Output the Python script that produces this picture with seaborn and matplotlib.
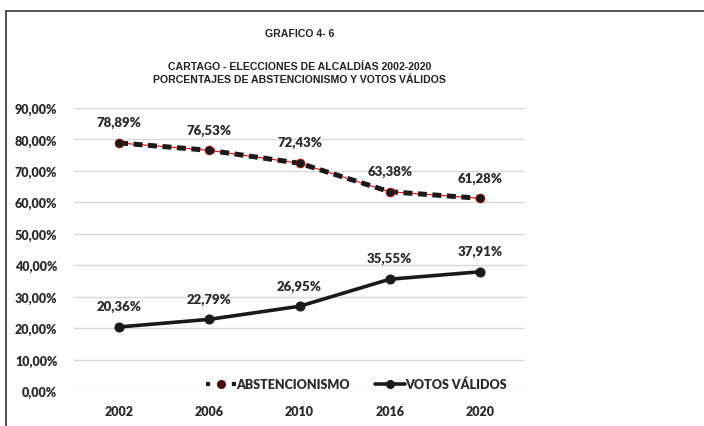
import matplotlib
matplotlib.use("Agg")
import matplotlib.pyplot as plt
import matplotlib.lines as mlines
import pandas as pd
import seaborn as sns

years = ["2002", "2006", "2010", "2016", "2020"]
abstencion = [78.89, 76.53, 72.43, 63.38, 61.28]
votos_validos = [20.36, 22.79, 26.95, 35.55, 37.91]
yticks = [0, 10, 20, 30, 40, 50, 60, 70, 80, 90]

df = pd.DataFrame({"year": years, "abst": abstencion, "votos": votos_validos})

sns.set_style("white")
plt.rcParams['font.family'] = ['Lato', 'DejaVu Sans']

fig = plt.figure(figsize=(7.04, 4.27), dpi=100)
ax = fig.add_axes([74/704, 1-392/427, (525-74)/704, (392-109)/427])

# thin red line under the dashed one
sns.lineplot(data=df, x="year", y="abst", ax=ax, color="red", lw=0.8, sort=False)
sns.lineplot(data=df, x="year", y="abst", ax=ax, color="#1a1a1a", lw=3.6,
             linestyle=(0, (1.8, 1.1)), sort=False)
sns.lineplot(data=df, x="year", y="abst", ax=ax, color="#1a1a1a", lw=0,
             marker="o", markersize=6.5, markerfacecolor="#1a1a1a",
             markeredgecolor="red", markeredgewidth=0.4, sort=False)
sns.lineplot(data=df, x="year", y="votos", ax=ax, color="#1a1a1a", lw=2.6,
             marker="o", markersize=6.5, markerfacecolor="#1a1a1a",
             markeredgecolor="#1a1a1a", sort=False)

for i, v in enumerate(abstencion):
    ax.annotate(f"{v:.2f}%".replace(".", ","), (i, v), xytext=(0, 15), textcoords="offset points",
                ha="center", va="center", fontsize=9.5, fontweight="heavy", color="#2b2b2b")
for i, v in enumerate(votos_validos):
    ax.annotate(f"{v:.2f}%".replace(".", ","), (i, v), xytext=(0, 15), textcoords="offset points",
                ha="center", va="center", fontsize=9.5, fontweight="heavy", color="#2b2b2b")

ax.set_xlim(-0.5, 4.5)
ax.set_ylim(0, 90)
ax.set_yticks(yticks)
ax.set_yticklabels([f"{t:.2f}%".replace(".", ",") for t in yticks])
ax.yaxis.grid(True, color="#d9d9d9", lw=1)
ax.set_axisbelow(True)
ax.set_xlabel("")
ax.set_ylabel("")
for s in ax.spines.values():
    s.set_visible(False)
ax.tick_params(axis="both", length=0, labelsize=9, colors="#2b2b2b")
ax.tick_params(axis="y", pad=12)
ax.tick_params(axis="x", pad=10)
for lab in ax.get_xticklabels() + ax.get_yticklabels():
    lab.set_fontweight("heavy")

h1 = mlines.Line2D([], [], color="#1a1a1a", lw=3, linestyle=(0, (1.0, 5.2)), marker="o",
                   markersize=5.5, markerfacecolor="#4a0808", markeredgecolor="#4a0808")
h2 = mlines.Line2D([], [], color="#1a1a1a", lw=2.6, marker="o", markersize=5.5)
leg = ax.legend([h1, h2], ["ABSTENCIONISMO", "VOTOS VÁLIDOS"], loc="center",
                bbox_to_anchor=((205 + 508) / 2 / 451 - 74 / 451, (392 - 385) / 283),
                ncol=2, frameon=False, handlelength=2.4,
                handletextpad=0.05, columnspacing=2.0, prop={"size": 9, "weight": "heavy"})
for t in leg.get_texts():
    t.set_color("#2b2b2b")

title_font = {"family": ["Liberation Sans Narrow", "Liberation Sans"], "weight": "bold"}
fig.text(299.5/704, 1-34/427, "GRAFICO 4- 6", ha="center", va="center",
         fontsize=7.6, color="#222222", fontdict=title_font)
fig.text(299.5/704, 1-67/427, "CARTAGO - ELECCIONES DE ALCALDÍAS 2002-2020", ha="center",
         va="center", fontsize=7.6, color="#222222", fontdict=title_font)
fig.text(299.5/704, 1-80/427, "PORCENTAJES DE ABSTENCIONISMO Y VOTOS VÁLIDOS", ha="center",
         va="center", fontsize=7.6, color="#222222", fontdict=title_font)

# chart border (top and left only visible)
fig.add_artist(mlines.Line2D([6/704, 1], [1-12/427, 1-12/427], color="#444444", lw=1.3))
fig.add_artist(mlines.Line2D([6/704, 6/704], [0, 1-12/427], color="#444444", lw=1.3))

fig.savefig("out.png", dpi=100)
